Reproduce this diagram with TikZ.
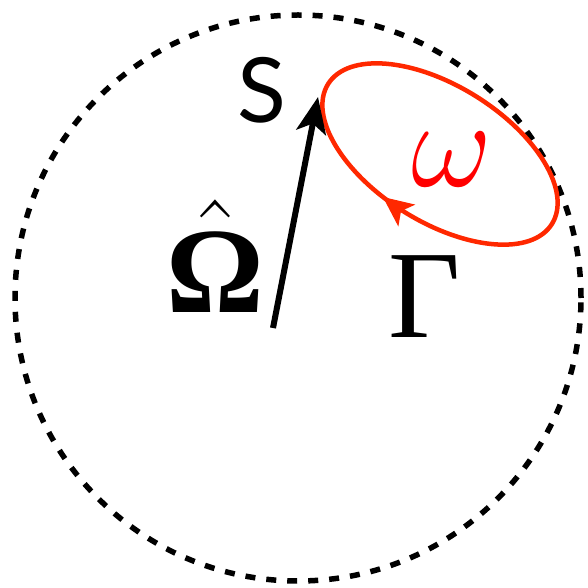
\RequirePackage{fix-cm}
\documentclass[tikz,border=0pt]{standalone}
\usepackage{amsmath}
\usepackage{fontspec}
\newfontfamily\labelsans{Lato}
\newfontfamily\labelserif{Liberation Serif}
\usetikzlibrary{arrows.meta,decorations.markings}
\definecolor{loopred}{RGB}{255,40,0}
\definecolor{omegared}{RGB}{255,0,0}
\begin{document}
\begin{tikzpicture}[x=1pt,y=1pt,
  txt/.style={inner sep=0pt,outer sep=0pt},
  boundary/.style={draw=black,line width=5.5pt,dash pattern=on 10pt off 11pt},
  vec/.style={draw=black,line width=6pt,-{Stealth[length=36pt,width=30pt,inset=9pt]}},
  loop/.style={draw=loopred,line width=4.5pt,
    postaction={decorate},
    decoration={markings,mark=at position 0.71 with {\arrowreversed[loopred]{Stealth[length=30pt,width=27pt,inset=7pt]}}}}]
\useasboundingbox (0,0) rectangle (588,587);
% dashed boundary circle
\draw[boundary] (298,289) circle[radius=283];
% red loop
\path[loop] (440,433) ellipse[x radius=132,y radius=68,rotate=-32];
% vector
\coordinate (tail) at (273,259);
\coordinate (tip) at (318,490);
\draw[vec] (tail) -- (tip);
% labels
\node[txt] (S) at (262,497) {\labelsans\fontsize{90}{90}\selectfont S};
\node[txt] (Omega) at (215,331) {\fontsize{122}{122}\selectfont$\hat{\hbox{\labelserif\bfseries Ω}}$};
\node[txt,text=omegared] (omega) at (452,427) {\fontsize{125}{125}\selectfont$\omega$};
\node[txt] (Gamma) at (425,290) {\labelserif\fontsize{125}{125}\selectfont Γ};
\end{tikzpicture}
\end{document}
